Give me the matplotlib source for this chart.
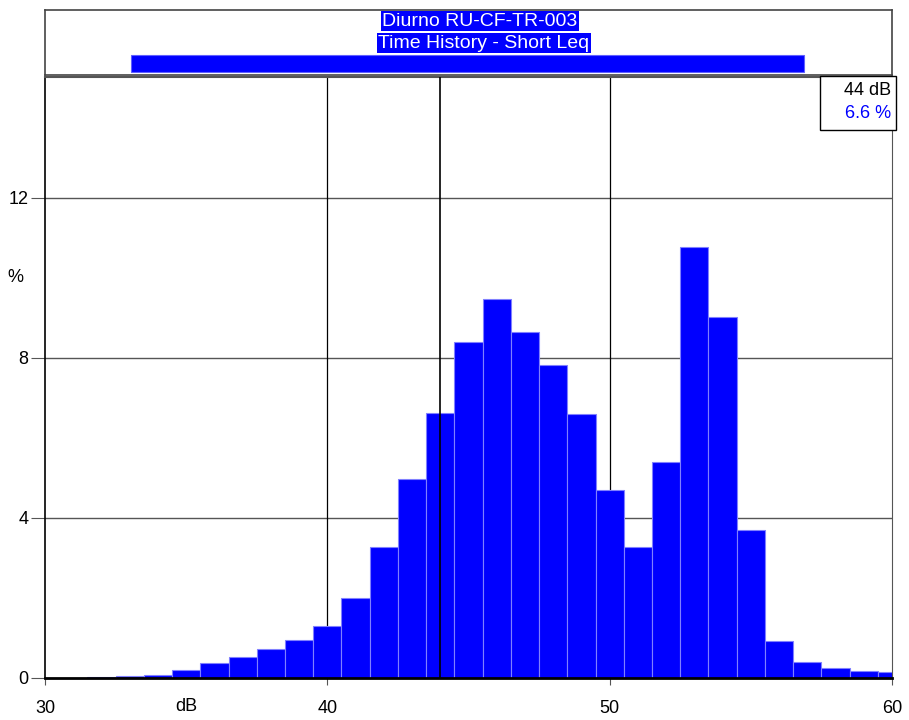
import matplotlib
matplotlib.use('Agg')
import matplotlib.pyplot as plt
import numpy as np

# histogram of short Leq levels
levels_db = [32, 33, 34, 35, 36, 37, 38, 39, 40, 41, 42, 43, 44, 45, 46,
             47, 48, 49, 50, 51, 52, 53, 54, 55, 56, 57, 58, 59, 60]
percent = [0.03, 0.05, 0.08, 0.2, 0.37, 0.53, 0.73, 0.94, 1.31, 1.99, 3.27,
           4.97, 6.62, 8.4, 9.47, 8.64, 7.81, 6.61, 4.7, 3.27, 5.41, 10.78,
           9.03, 3.7, 0.93, 0.39, 0.24, 0.17, 0.14]
y_ticks = [0, 4, 8, 12]
x_ticks = [30, 40, 50, 60]
cursor_db = 44
cursor_pct = 6.6
title_lines = ['Diurno RU-CF-TR-003', 'Time History - Short Leq']
overview_span = (33.05, 56.9)

plt.rcParams['font.family'] = ['Liberation Sans', 'DejaVu Sans']
narrow = ['Liberation Sans Narrow', 'DejaVu Sans Condensed', 'Liberation Sans']
BLUE = '#0000ff'

fig = plt.figure(figsize=(9.09, 7.2), dpi=100)

# header box
hx = fig.add_axes([45/909, 1-75/720, 847/909, 65/720])
hx.set_xlim(30, 60)
hx.set_ylim(0, 1)
hx.set_xticks([])
hx.set_yticks([])
for s in hx.spines.values():
    s.set_color('#444444')
    s.set_linewidth(1.2)
hx.text(45.4, 0.83, title_lines[0], ha='center', va='center', color='white',
        fontsize=14, family=narrow,
        bbox=dict(facecolor=BLUE, edgecolor='none', pad=0.8))
hx.text(45.55, 0.49, title_lines[1], ha='center', va='center', color='white',
        fontsize=14, family=narrow,
        bbox=dict(facecolor=BLUE, edgecolor='none', pad=0.8))
hx.barh(0.17, overview_span[1]-overview_span[0], left=overview_span[0],
        height=0.26, color=BLUE, edgecolor='#6060ff', linewidth=0.8)

# main histogram
ax = fig.add_axes([45/909, 1-678/720, 847/909, 601/720])
ax.bar(levels_db, percent, width=1.0, color=BLUE, edgecolor='#8080ff',
       linewidth=0.8, zorder=2)
ax.set_xlim(30, 60)
ax.set_ylim(0, 15.02)

for v in y_ticks[1:]:
    ax.axhline(v, color='#555555', linewidth=1, zorder=1)
for v in x_ticks[1:-1]:
    ax.axvline(v, color='black', linewidth=0.9, zorder=1)
ax.axvline(cursor_db, color='black', linewidth=1.2, zorder=3)

ax.set_yticks(y_ticks)
ax.set_xticks(x_ticks)
ax.tick_params(axis='y', length=10, color='#555555', labelsize=13, pad=2)
ax.tick_params(axis='x', length=5, color='#555555', labelsize=13, pad=11)
ax.spines['left'].set_linewidth(1.2)
ax.spines['bottom'].set_linewidth(2)
ax.spines['top'].set_linewidth(1.5)
ax.spines['top'].set_color('#555555')
ax.spines['right'].set_color('#555555')

ax.text(-0.035, 10, '%', transform=ax.get_yaxis_transform(), ha='center',
        va='center', fontsize=13)
ax.text(35, -0.033, 'dB', transform=ax.get_xaxis_transform(), ha='center',
        va='top', fontsize=13)

# cursor readout box
ax.add_patch(plt.Rectangle((0.915, 0.912), 0.09, 0.09, transform=ax.transAxes,
                           facecolor='white', edgecolor='black', linewidth=1,
                           zorder=4, clip_on=False))
ax.text(0.999, 0.978, f'{cursor_db} dB', transform=ax.transAxes, ha='right',
        va='center', fontsize=13, zorder=5)
ax.text(0.999, 0.94, f'{cursor_pct} %', transform=ax.transAxes, ha='right',
        va='center', fontsize=13, color=BLUE, zorder=5)

fig.savefig('out.png', dpi=100)
